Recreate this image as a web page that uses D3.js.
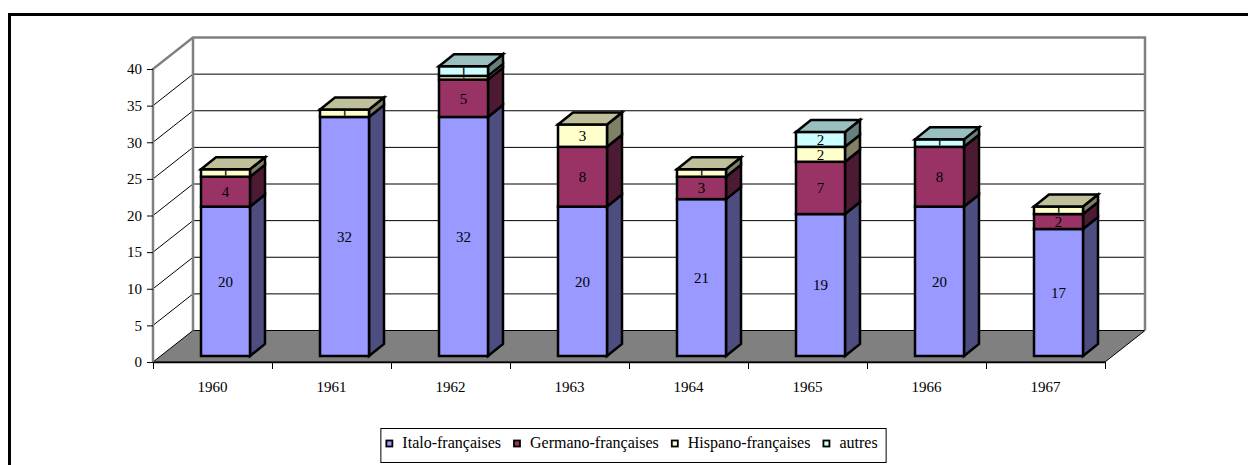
<!DOCTYPE html>
<html>
<head>
<meta charset="utf-8">
<script src="https://cdn.jsdelivr.net/npm/d3@7"></script>
<style>
  body { margin: 0; background: #fff; }
  svg text { font-family: "Liberation Serif", "DejaVu Serif", Times, serif; fill: #000; }
</style>
</head>
<body>
<div id="chart"></div>
<script>
var svgWidth = 1248;
var svgHeight = 465;
var serif = "'Liberation Serif', 'DejaVu Serif', Times, serif";

// data
var years = ["1960", "1961", "1962", "1963", "1964", "1965", "1966", "1967"];
var italo = [20, 32, 32, 20, 21, 19, 20, 17];
var germano = [4, 0, 5, 8, 3, 7, 8, 2];
var hispano = [1, 1, 0.5, 3, 1, 2, 0, 1];
var autres = [0, 0, 1.3, 0, 0, 2, 1, 0];
var seriesNames = ["Italo-françaises", "Germano-françaises", "Hispano-françaises", "autres"];
var seriesColors = ["#9999FF", "#993366", "#FFFFCC", "#CCFFFF"];
var yTicks = [0, 5, 10, 15, 20, 25, 30, 35, 40];

// layout of the 3d box
var plot = { left: 153, right: 1105, top: 69, bottom: 362 };
var depth = { dx: 40, dy: -31.5 };
var bar = { offset: 48, width: 49, dx: 15, dy: -12, base: 356, unit: 7.47 };

var svg = d3.select("#chart")
  .append("svg")
  .attr("width", svgWidth)
  .attr("height", svgHeight)
  .style("font-family", serif);

// outer frame
svg.append("rect")
  .attr("x", 9.5).attr("y", 14.5)
  .attr("width", 1260).attr("height", 480)
  .attr("fill", "none")
  .attr("stroke", "#000")
  .attr("stroke-width", 3);

var yScale = d3.scaleLinear().domain([0, 40]).range([plot.bottom, plot.top]);
var yBar = d3.scaleLinear().domain([0, 40]).range([bar.base, bar.base - 40 * bar.unit]);
var xBand = d3.scaleBand().domain(years).range([plot.left, plot.right]);
var xEdge = d3.scaleLinear().domain([0, years.length]).range([plot.left, plot.right]);

var backL = plot.left + depth.dx, backR = plot.right + depth.dx;

// walls
var walls = svg.append("g");
walls.append("polygon")
  .attr("points", [[plot.left, plot.bottom], [backL, plot.bottom + depth.dy],
                   [backL, plot.top + depth.dy], [plot.left, plot.top]].join(" "))
  .attr("fill", "#fff");
walls.append("rect")
  .attr("x", backL).attr("y", plot.top + depth.dy)
  .attr("width", backR - backL).attr("height", plot.bottom - plot.top)
  .attr("fill", "#fff");

// gridlines on back and side wall
yTicks.filter(v => v > 0 && v < 40).forEach(function(v) {
  var y = yScale(v);
  walls.append("line")
    .attr("x1", backL).attr("x2", backR)
    .attr("y1", y + depth.dy).attr("y2", y + depth.dy)
    .attr("stroke", "#000").attr("stroke-width", 1);
  walls.append("line")
    .attr("x1", plot.left).attr("x2", backL)
    .attr("y1", y).attr("y2", y + depth.dy)
    .attr("stroke", "#000").attr("stroke-width", 1);
});

// floor
walls.append("polygon")
  .attr("points", [[plot.left, plot.bottom], [plot.right, plot.bottom],
                   [backR, plot.bottom + depth.dy], [backL, plot.bottom + depth.dy]].join(" "))
  .attr("fill", "#808080")
  .attr("stroke", "#000")
  .attr("stroke-width", 1);

// wall edges (grey)
walls.append("polyline")
  .attr("points", [[plot.left, plot.bottom], [plot.left, plot.top], [backL, plot.top + depth.dy],
                   [backR, plot.top + depth.dy], [backR, plot.bottom + depth.dy]].join(" "))
  .attr("fill", "none").attr("stroke", "#808080").attr("stroke-width", 2.5);
walls.append("line")
  .attr("x1", backL).attr("x2", backL)
  .attr("y1", plot.top + depth.dy).attr("y2", plot.bottom + depth.dy)
  .attr("stroke", "#808080").attr("stroke-width", 2.5);

// y axis
var yAxis = svg.append("g")
  .attr("transform", `translate(${plot.left}, 0)`)
  .call(d3.axisLeft(yScale).tickValues(yTicks).tickSize(6).tickPadding(5));
yAxis.attr("font-family", serif).attr("font-size", 15);
yAxis.select(".domain").remove();

// x axis: ticks at the category edges, labels in the middle
var xAxis = svg.append("g")
  .attr("transform", `translate(0, ${plot.bottom})`)
  .call(d3.axisBottom(xEdge).tickValues(d3.range(years.length + 1)).tickFormat("").tickSize(7).tickSizeOuter(0));
xAxis.select(".domain").attr("stroke-width", 1.5);

var xLabels = svg.append("g")
  .attr("transform", `translate(0, ${plot.bottom})`)
  .call(d3.axisBottom(xBand).tickSize(0).tickPadding(19));
xLabels.attr("font-family", serif).attr("font-size", 15);
xLabels.select(".domain").remove();

// stacked data
var rows = years.map(function(y, i) {
  return { year: y, s0: italo[i], s1: germano[i], s2: hispano[i], s3: autres[i] };
});
var keys = ["s0", "s1", "s2", "s3"];
var stacked = d3.stack().keys(keys)(rows);

function shade(c, f) {
  var r = d3.rgb(c);
  return d3.rgb(r.r * f, r.g * f, r.b * f) + "";
}

var defs = svg.append("defs");
var barsG = svg.append("g")
  .attr("stroke", "#000")
  .attr("stroke-width", 2.5)
  .attr("stroke-linejoin", "miter");
var labelsG = svg.append("g")
  .attr("font-family", serif)
  .attr("font-size", 15);

rows.forEach(function(row, i) {
  var x0 = xBand(row.year) + bar.offset;
  var x1 = x0 + bar.width;
  var segs = [];
  keys.forEach(function(k, s) {
    var d = stacked[s][i];
    if (d[1] - d[0] > 0) segs.push({ s: s, y0: yBar(d[0]), y1: yBar(d[1]), v: d[1] - d[0] });
  });
  var g = barsG.append("g");
  segs.forEach(function(seg) {
    var c = seriesColors[seg.s];
    g.append("polygon")
      .attr("points", [[x1, seg.y0], [x1 + bar.dx, seg.y0 + bar.dy],
                       [x1 + bar.dx, seg.y1 + bar.dy], [x1, seg.y1]].join(" "))
      .attr("fill", shade(c, 0.5));
    g.append("rect")
      .attr("x", x0).attr("y", seg.y1)
      .attr("width", bar.width).attr("height", seg.y0 - seg.y1)
      .attr("fill", c);
  });
  var top = segs[segs.length - 1];
  g.append("polygon")
    .attr("points", [[x0, top.y1], [x0 + bar.dx, top.y1 + bar.dy],
                     [x1 + bar.dx, top.y1 + bar.dy], [x1, top.y1]].join(" "))
    .attr("fill", shade(seriesColors[top.s], 0.75));

  // data labels, clipped to the front face
  segs.forEach(function(seg) {
    var id = "clip-" + i + "-" + seg.s;
    defs.append("clipPath").attr("id", id)
      .append("rect")
      .attr("x", x0 + 1.25).attr("y", seg.y1 + 1.25)
      .attr("width", bar.width - 2.5).attr("height", Math.max(0, seg.y0 - seg.y1 - 2.5));
    labelsG.append("text")
      .attr("clip-path", `url(#${id})`)
      .attr("x", x0 + bar.width / 2)
      .attr("y", (seg.y0 + seg.y1) / 2)
      .attr("dy", "0.35em")
      .attr("text-anchor", "middle")
      .text(Math.round(seg.v));
  });
});

// legend
var legend = svg.append("g")
  .attr("font-family", serif)
  .attr("font-size", 16);
var box = legend.append("rect")
  .attr("fill", "#fff")
  .attr("stroke", "#000")
  .attr("stroke-width", 1);
var items = legend.append("g");
var cx = 0;
seriesNames.forEach(function(name, s) {
  items.append("rect")
    .attr("x", cx + 1).attr("y", 440.5)
    .attr("width", 6).attr("height", 6)
    .attr("fill", seriesColors[s])
    .attr("stroke", "#000")
    .attr("stroke-width", 1.8);
  var t = items.append("text")
    .attr("x", cx + 17)
    .attr("y", 448)
    .text(name);
  cx += 17 + t.node().getComputedTextLength() + 12;
});
var legendW = cx - 12;
var legendX = 631.5 - legendW / 2;
items.attr("transform", `translate(${legendX}, 0)`);
box.attr("x", legendX - 4.5).attr("y", 428.5)
  .attr("width", legendW + 13).attr("height", 34);
</script>
</body>
</html>
